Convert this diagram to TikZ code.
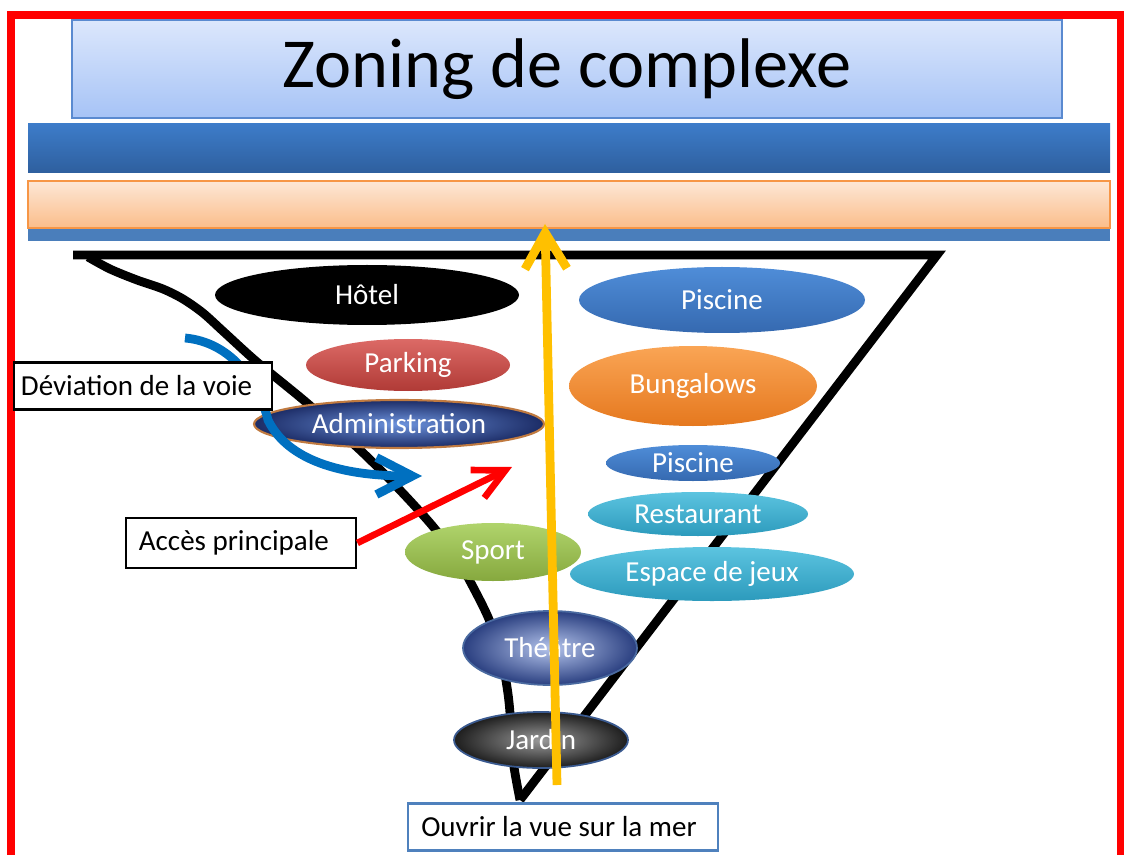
\documentclass[tikz,border=0pt]{standalone}
\usepackage{fontspec}
\setmainfont{Carlito}
\usetikzlibrary{arrows.meta,shapes.geometric}
\definecolor{titleT}{HTML}{DCE7FC}
\definecolor{titleB}{HTML}{A6C3F6}
\definecolor{titleE}{HTML}{5A8AD0}
\definecolor{bbarT}{HTML}{3D7CC9}
\definecolor{bbarB}{HTML}{2E5F9E}
\definecolor{obarT}{HTML}{FDE7D6}
\definecolor{obarB}{HTML}{FBBD8A}
\definecolor{obarE}{HTML}{F79646}
\definecolor{thinbar}{HTML}{4A7EBB}
\definecolor{piscT}{HTML}{4F8DD8}
\definecolor{piscB}{HTML}{3569B0}
\definecolor{parkT}{HTML}{DC6A66}
\definecolor{parkB}{HTML}{B03A36}
\definecolor{bungT}{HTML}{FAA555}
\definecolor{bungB}{HTML}{E5781E}
\definecolor{admIn}{HTML}{6C92DC}
\definecolor{admOut}{HTML}{1C2C66}
\definecolor{admE}{HTML}{C07A40}
\definecolor{restT}{HTML}{5CC4E0}
\definecolor{restB}{HTML}{2C9ABC}
\definecolor{sporT}{HTML}{B0D46C}
\definecolor{sporB}{HTML}{86A83E}
\definecolor{theaIn}{HTML}{B4C4EC}
\definecolor{theaOut}{HTML}{2A3F80}
\definecolor{theaE}{HTML}{4A6AA0}
\definecolor{jarIn}{HTML}{9A9A9A}
\definecolor{jarOut}{HTML}{1E1E1E}
\definecolor{jarE}{HTML}{3A5A90}
\definecolor{devblue}{HTML}{0070C0}
\definecolor{yel}{HTML}{FFC000}
\definecolor{boxblue}{HTML}{4F81BD}
\begin{document}
\begin{tikzpicture}[x=0.02cm,y=-0.02cm,
  zone/.style={ellipse, inner sep=0pt, text=white, font=\fontsize{16.5}{18}\selectfont},
  sz/.style 2 args={minimum width=#1*0.02cm, minimum height=#2*0.02cm},
  lbl/.style={draw, line width=1.6pt, fill=white, inner sep=0pt},
  lbltext/.style={anchor=west, inner sep=0pt, text=black, font=\fontsize{16.5}{18}\selectfont},
  funnel/.style={line width=5pt, black},
  ptr/.style={line width=5pt}]
\useasboundingbox (0,0) rectangle (1124,854);
% bars
\shade[top color=bbarT, bottom color=bbarB] (28,124) rectangle (1110,173);
\shade[top color=obarT, bottom color=obarB, draw=obarE, line width=0.7pt] (28,181) rectangle (1110,228);
\fill[thinbar] (28,229) rectangle (1110,241);
\node[draw=titleE, line width=0.7pt, top color=titleT, bottom color=titleB, sz={990}{98}, inner sep=0pt, font=\fontsize{40}{46}\selectfont] (title) at (567,69) {Zoning de complexe};
% red frame
\draw[red, line width=5pt] (11,880) -- (11,15) -- (1121,15) -- (1121,880);
% funnel
\draw[funnel, line join=miter] (73,255) -- (937,255) -- (520,800);
\draw[funnel, line join=round] plot[smooth, tension=0.5] coordinates {(88,257) (110,269) (137,280) (163,289) (183,299) (203,313) (225,333) (257,362) (307,403) (360,450) (397,487) (430,523) (455,555) (472,585) (488,617) (500,650) (507,687) (510,713) (513,760) (520,800)};
% zones
\node[zone, fill=black, sz={304}{60}] (hotel) at (367,295) {Hôtel};
\node[zone, top color=piscT, bottom color=piscB, sz={286}{66}] (pisc1) at (722,300) {Piscine};
\node[zone, top color=parkT, bottom color=parkB, sz={204}{52}] (park) at (408,365) {Parking};
\node[zone, top color=bungT, bottom color=bungB, sz={248}{80}] (bung) at (693,386) {Bungalows};
\node[zone, inner color=admIn, outer color=admOut, draw=admE, line width=1.2pt, sz={290}{48}] (adm) at (399,424) {Administration};
\node[zone, top color=piscT, bottom color=piscB, sz={174}{36}] (pisc2) at (693,463) {Piscine};
\node[zone, top color=restT, bottom color=restB, sz={220}{44}] (rest) at (698,514) {Restaurant};
\node[zone, top color=sporT, bottom color=sporB, sz={176}{58}] (sport) at (493,552) {Sport};
\node[zone, top color=restT, bottom color=restB, sz={284}{54}] (jeux) at (712,574) {Espace de jeux};
\node[zone, inner color=theaIn, outer color=theaOut, draw=theaE, line width=1pt, sz={174}{74}] (thea) at (550,648) {Théâtre};
\node[zone, inner color=jarIn, outer color=jarOut, draw=jarE, line width=1pt, sz={174}{56}] (jardin) at (541,740) {Jardin};
% blue deviation arrow
\coordinate (bstart) at (185,338);
\coordinate (bmid) at (268,420);
\coordinate (btip) at (422,476);
\draw[ptr, devblue, -{Straight Barb[length=0.72cm,width=0.74cm]}] (bstart) .. controls (230,342) and (258,380) .. (bmid) .. controls (285,455) and (330,476) .. (btip);
% labels
\node[lbl, sz={258}{47}] (dev) at (143,386) {};
\node[lbltext] (devtxt) at ([xshift=8*0.02cm]dev.west) {Déviation de la voie};
\node[lbl, sz={230}{50}] (acc) at (241,543) {};
\node[lbltext] (acctxt) at ([xshift=14*0.02cm]acc.west) {Accès principale};
\node[draw=boxblue, line width=1.2pt, fill=white, inner sep=0pt, sz={310}{47}] (mer) at (563,827) {};
\node[lbltext] (mertxt) at ([xshift=14*0.02cm]mer.west) {Ouvrir la vue sur la mer};
% red access arrow
\coordinate (rtip) at (512,467);
\draw[line width=3.8pt, red, -{Straight Barb[length=0.62cm,width=0.62cm]}] (acc.east) -- (rtip);
% yellow arrow
\coordinate (ystart) at (557,785);
\coordinate (ytip) at (545,224);
\draw[ptr, yel, -{Straight Barb[length=0.72cm,width=0.84cm]}] (ystart) -- (ytip);
\end{tikzpicture}
\end{document}
